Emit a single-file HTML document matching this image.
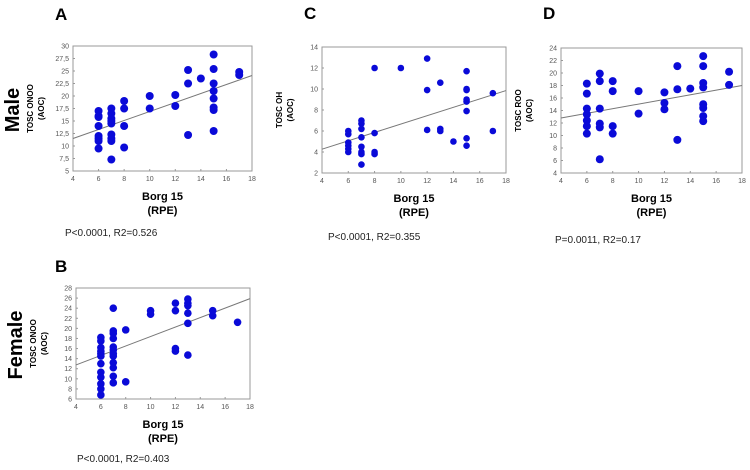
<!DOCTYPE html>
<html><head><meta charset="utf-8"><style>
html,body{margin:0;padding:0;background:#fff;}
svg{display:block;font-family:"Liberation Sans",Arial,sans-serif;}
</style></head><body>
<svg id="fig" width="750" height="470" viewBox="0 0 750 470"></svg>
<script>
const ns="http://www.w3.org/2000/svg";
const svg=document.getElementById('fig');
// Panel A data (Male, TOSC ONOO)
const aX=[6,6,6,6,6,6,6,6,7,7,7,7,7,7,7,7,7,8,8,8,8,10,10,12,12,13,13,13,14,15,15,15,15,15,15,15,15,17,17];
const aY=[17,16,15.8,14,12,11.5,11,9.5,17.5,16.5,15.5,15,14.5,12.3,11.5,11,7.3,19,17.5,14,9.7,20,17.5,20.2,18,25.2,22.5,12.2,23.5,28.3,25.4,22.5,21,19.5,17.7,17.2,13,24.8,24.2];
const aTicks=[5,7.5,10,12.5,15,17.5,20,22.5,25,27.5,30];
const aLine=[11.5,24.1];
// Panel C data (Male, TOSC OH)
const cX=[6,6,6,6,6,6,7,7,7,7,7,7,7,7,8,8,8,8,10,12,12,12,13,13,13,14,15,15,15,15,15,15,15,15,17,17];
const cY=[6,5.7,4.9,4.6,4.3,4,7,6.7,6.2,5.4,4.5,4,3.8,2.8,12,5.8,4,3.8,12,12.9,9.9,6.1,10.6,6.2,6,5,11.7,10,9.9,9,8.8,7.9,5.3,4.6,9.6,6];
const cTicks=[2,4,6,8,10,12,14];
const cLine=[4.27,9.85];
// Panel D data (Male, TOSC ROO)
const dX=[6,6,6,6,6,6,6,7,7,7,7,7,7,8,8,8,8,10,10,12,12,12,13,13,13,14,15,15,15,15,15,15,15,15,17,17];
const dY=[18.3,16.7,14.3,13.4,12.4,11.5,10.3,19.9,18.7,14.3,11.9,11.3,6.2,18.7,17.1,11.5,10.3,17.1,13.5,16.9,15.2,14.2,21.1,17.4,9.3,17.5,22.7,21.1,18.4,17.7,15,14.4,13.1,12.3,20.2,18.1];
const dTicks=[4,6,8,10,12,14,16,18,20,22,24];
const dLine=[12.8,18.0];
// Panel B data (Female, TOSC ONOO)
const bX=[6,6,6,6,6,6,6,6,6,6,6,6,7,7,7,7,7,7,7,7,7,7,7,7,8,8,10,10,12,12,12,12,13,13,13,13,13,13,15,15,17];
const bY=[18.2,17.5,16.2,15.5,15,14.5,13,11.3,10.3,9,8,6.8,24,19.5,19,18,16.3,15.7,15,14.5,13.2,12.2,10.5,9.2,19.7,9.4,23.5,22.8,25,23.5,16,15.5,25.8,25,24.5,23,21,14.7,23.5,22.5,21.2];
const bTicks=[6,8,10,12,14,16,18,20,22,24,26,28];
const bLine=[12.75,25.9];
const xTicks=[4,6,8,10,12,14,16,18];

function el(tag,attrs,parent){const e=document.createElementNS(ns,tag);for(const k in attrs)e.setAttribute(k,attrs[k]);(parent||svg).appendChild(e);return e;}
function txt(s,attrs,parent){const e=el('text',attrs,parent);e.textContent=s;return e;}

function panel(id,box,ymin,ymax,yt,xs,ys,line,ytitle,r,pText,pPos,letter,lPos,tickFmt){
  const g=el('g',{});
  
  
  const [x0,y0,x1,y1]=box;
  const sx=v=>x0+(v-4)/(18-4)*(x1-x0);
  const sy=v=>y1-(v-ymin)/(ymax-ymin)*(y1-y0);
  const frame=el('rect',{x:x0,y:y0,width:x1-x0,height:y1-y0,fill:'none',stroke:'#999','stroke-width':1},g);
  
  
  yt.forEach(v=>{
    const t=txt(tickFmt?tickFmt(v):String(v),{x:x0-4,y:sy(v)+2.5,'font-size':7,fill:'#555','text-anchor':'end'},g);
    
    
    el('line',{x1:x0,x2:x0+2,y1:sy(v),y2:sy(v),stroke:'#999'},g);
  });
  xTicks.forEach(v=>{
    const t=txt(String(v),{x:sx(v),y:y1+10,'font-size':7,fill:'#555','text-anchor':'middle'},g);
    
    
    el('line',{x1:sx(v),x2:sx(v),y1:y1,y2:y1-2,stroke:'#999'},g);
  });
  const ln=el('line',{x1:sx(4),y1:sy(line[0]),x2:sx(18),y2:sy(line[1]),stroke:'#777','stroke-width':1},g);
  
  
  xs.forEach((xv,i)=>{
    const c=el('circle',{cx:sx(xv),cy:sy(ys[i]),r:r,fill:'#0a0ad8'},g);
    
    
  });
  const cx=x0-40, cy=(y0+y1)/2;
  const yt1=txt(ytitle,{x:0,y:0,'font-size':8,'font-weight':'bold','text-anchor':'middle',transform:`translate(${cx},${cy}) rotate(-90)`},g);
  
  
  const yt2=txt('(AOC)',{x:0,y:0,'font-size':8,'font-weight':'bold','text-anchor':'middle',transform:`translate(${cx+11},${cy}) rotate(-90)`},g);
  
  
  const mx=(x0+x1)/2;
  const xt=txt('Borg 15',{x:mx,y:y1+29,'font-size':11,'font-weight':'bold','text-anchor':'middle'},g);
  
  
  const xu=txt('(RPE)',{x:mx,y:y1+43,'font-size':11,'font-weight':'bold','text-anchor':'middle'},g);
  
  
  const p=txt(pText,{x:pPos[0],y:pPos[1],'font-size':10,fill:'#222'},g);
  
  
  const L=txt(letter,{x:lPos[0],y:lPos[1],'font-size':17,'font-weight':'bold'},g);
  
  
}
const comma=v=>String(v).replace('.',',');
panel('a',[73,46,252,171],5,30,aTicks,aX,aY,aLine,'TOSC ONOO',4,'P<0.0001, R2=0.526',[65,236],'A',[55,20],comma);
panel('c',[322,47,506,173],2,14,cTicks,cX,cY,cLine,'TOSC OH',3.3,'P<0.0001, R2=0.355',[328,240],'C',[304,19],null);
panel('d',[561,48,742,173],4,24,dTicks,dX,dY,dLine,'TOSC ROO',4,'P=0.0011, R2=0.17',[555,243],'D',[543,19],null);
panel('b',[76,288,250,399],6,28,bTicks,bX,bY,bLine,'TOSC ONOO',3.8,'P<0.0001, R2=0.403',[77,462],'B',[55,272],null);

const m=txt('Male',{x:0,y:0,'font-size':20,'font-weight':'bold','text-anchor':'middle',transform:'translate(19,110) rotate(-90)'});


const f=txt('Female',{x:0,y:0,'font-size':20,'font-weight':'bold','text-anchor':'middle',transform:'translate(22,345) rotate(-90)'});


</script>
</body></html>
